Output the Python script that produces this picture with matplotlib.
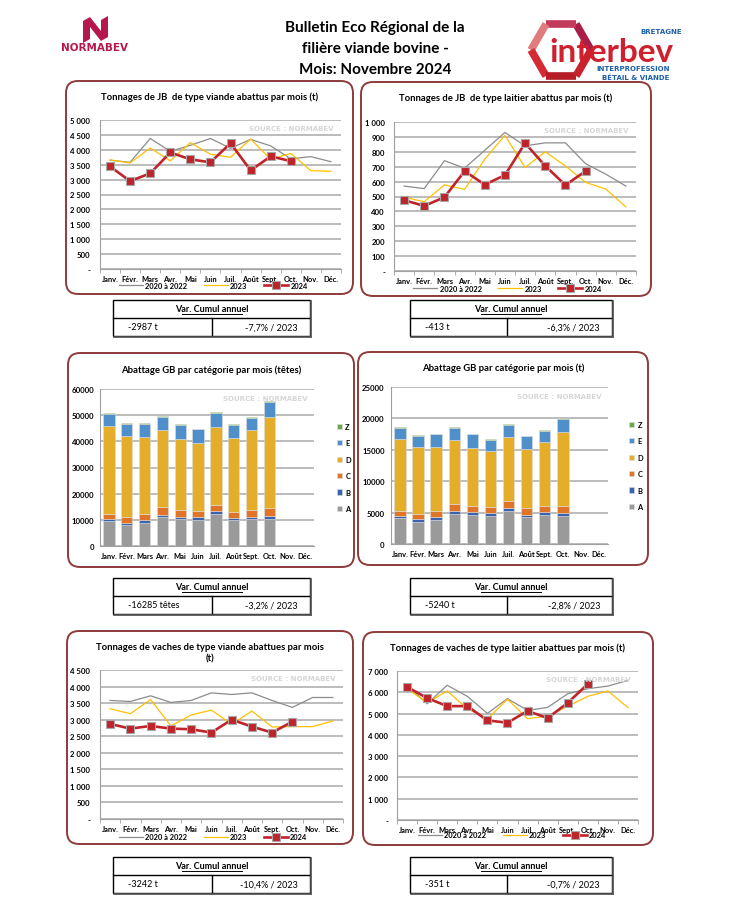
import numpy as np
import matplotlib
matplotlib.use('Agg')
import matplotlib.pyplot as plt
from matplotlib.patches import FancyBboxPatch, Rectangle, Polygon
from matplotlib.ticker import FuncFormatter, MultipleLocator

plt.rcParams['font.family'] = ['Lato', 'DejaVu Sans']
plt.rcParams['font.weight'] = 'bold'

W, H = 742, 912

mois = ['Janv.', 'Févr.', 'Mars', 'Avr.', 'Mai', 'Juin', 'Juil.', 'Août',
        'Sept.', 'Oct.', 'Nov.', 'Déc.']

# JB type viande (t)
jbv_ref = [3650, 3580, 4380, 3950, 4150, 4380, 4050, 4350, 4130, 3700, 3770, 3600]
jbv_2023 = [3660, 3560, 4060, 3630, 4240, 3850, 3750, 4360, 3680, 3880, 3300, 3280]
jbv_2024 = [3440, 2950, 3210, 3910, 3680, 3580, 4220, 3310, 3780, 3620]

# JB type laitier (t)
jbl_ref = [570, 553, 740, 690, 810, 930, 840, 860, 860, 720, 650, 570]
jbl_2023 = [495, 465, 578, 548, 750, 910, 695, 800, 705, 595, 550, 430]
jbl_2024 = [475, 437, 495, 670, 580, 643, 858, 705, 577, 670]

# Abattage GB par catégorie (têtes)
gbt_A = [9450, 8170, 8800, 10980, 10220, 9960, 12260, 9830, 10340, 10340]
gbt_B = [750, 770, 1030, 900, 1020, 1150, 1020, 770, 770, 1030]
gbt_C = [2060, 2160, 2430, 3060, 2550, 2300, 2430, 2430, 2810, 3060]
gbt_D = [33440, 31050, 29370, 29250, 26950, 25920, 29630, 28090, 30400, 34990]
gbt_E = [4750, 4590, 4970, 5230, 5490, 5240, 5620, 5110, 4720, 5750]
gbt_Z = [350, 260, 270, 380, 250, 130, 240, 380, 260, 260]

# Abattage GB par catégorie (t)
gbw_A = [4150, 3560, 3830, 4840, 4570, 4470, 5270, 4260, 4630, 4520]
gbw_B = [370, 380, 430, 430, 480, 530, 530, 420, 420, 480]
gbw_C = [750, 900, 1010, 1110, 1070, 960, 1010, 1120, 1070, 1120]
gbw_D = [11490, 10590, 10160, 10110, 9200, 8770, 10160, 9360, 10160, 11650]
gbw_E = [1750, 1750, 2020, 1970, 2130, 1870, 2020, 1970, 1750, 2070]
gbw_Z = [160, 160, 100, 100, 100, 160, 110, 100, 160, 160]

# Vaches type viande (t)
vv_ref = [3580, 3550, 3720, 3520, 3580, 3810, 3760, 3810, 3580, 3370, 3670, 3670]
vv_2023 = [3330, 3180, 3610, 2810, 3140, 3290, 2860, 3260, 2780, 2790, 2790, 2960]
vv_2024 = [2870, 2730, 2810, 2730, 2710, 2610, 3000, 2790, 2610, 2940]

# Vaches type laitier (t)
vl_ref = [6330, 5460, 6330, 5810, 5010, 5700, 5150, 5290, 5930, 6170, 6290, 6560]
vl_2023 = [6170, 5510, 6060, 5230, 4750, 5670, 4760, 4880, 5340, 5810, 6060, 5280]
vl_2024 = [6250, 5730, 5350, 5350, 4680, 4570, 5120, 4790, 5500, 6390]

# Tableaux "Var. Cumul annuel"
var_volume = ['-2987 t', '-413 t', '-16285 têtes', '-5240 t', '-3242 t', '-351 t']
var_pct = ['-7,7% / 2023', '-6,3% / 2023', '-3,2% / 2023', '-2,8% / 2023',
           '-10,4% / 2023', '-0,7% / 2023']

GRIS = '#8c8c8c'
JAUNE = '#FFC000'
ROUGE = '#C0242B'
BORD = '#8E3B3B'
GRILLE = '#b0b0b0'
cat_couleurs = {'A': '#9a9a9a', 'B': '#3a62ad', 'C': '#e07428', 'D': '#e4ae2a',
                'E': '#4f8fca', 'Z': '#6aa84f'}

fig = plt.figure(figsize=(W / 100, H / 100), dpi=100)
bg = fig.add_axes([0, 0, 1, 1])
bg.set_xlim(0, W)
bg.set_ylim(H, 0)
bg.axis('off')


def px_ax(x0, y0, x1, y1):
    return fig.add_axes([x0 / W, 1 - y1 / H, (x1 - x0) / W, (y1 - y0) / H])


def milliers(v, pos):
    if abs(v) < 1e-6:
        return '-'
    return f'{v:,.0f}'.replace(',', ' ')


def cadre(x0, y0, x1, y1):
    bg.add_patch(FancyBboxPatch((x0, y0), x1 - x0, y1 - y0,
                                boxstyle='round,pad=0,rounding_size=12',
                                fc='none', ec=BORD, lw=1.4))


def filigrane(ax):
    ax.text(0.97, 0.945, 'SOURCE : NORMABEV', transform=ax.transAxes,
            ha='right', va='center', fontsize=5, color='#d6d6d6',
            family='DejaVu Sans', fontweight='bold')


def style_axes(ax, pad_y):
    for s in ['top', 'right']:
        ax.spines[s].set_visible(False)
    ax.spines['left'].set_color('#a0a0a0')
    ax.spines['bottom'].set_color('#a0a0a0')
    ax.grid(axis='y', color=GRILLE, lw=1.2)
    ax.set_axisbelow(True)
    ax.tick_params(axis='y', length=0, pad=pad_y, labelsize=5.6)
    ax.set_xlim(-0.5, 11.5)


def courbe(box, ref, an23, an24, ymax, pas, leg, pad_y):
    ax = px_ax(*box)
    x = np.arange(12)
    ax.plot(x, ref, color=GRIS, lw=0.9, label='2020 à 2022')
    ax.plot(x, an23, color=JAUNE, lw=0.9, label='2023')
    ax.plot(x[:len(an24)], an24, color=ROUGE, lw=1.9, marker='s', ms=5.5,
            mfc=ROUGE, mec='#a8a8a8', mew=0.8, label='2024')
    style_axes(ax, pad_y)
    ax.set_ylim(0, ymax)
    ax.yaxis.set_major_locator(MultipleLocator(pas))
    ax.yaxis.set_major_formatter(FuncFormatter(milliers))
    ax.set_xticks(x)
    ax.set_xticklabels(mois, fontsize=5.4)
    ax.set_xticks(np.arange(-0.5, 12, 1), minor=True)
    ax.tick_params(axis='x', which='major', length=0, pad=4)
    ax.tick_params(axis='x', which='minor', length=3, color='#a0a0a0')
    ax.legend(loc='center', bbox_to_anchor=leg, ncol=3, frameon=False,
              fontsize=5.4, handlelength=3.2, columnspacing=2.2,
              handletextpad=0.3, borderpad=0)
    filigrane(ax)
    return ax


def barres(box, cats, ymax, pas, pad_y, leg_x):
    ax = px_ax(*box)
    x = np.arange(len(cats['A']))
    bas = np.zeros(len(x))
    for nom in ['A', 'B', 'C', 'D', 'E', 'Z']:
        v = np.array(cats[nom])
        ax.bar(x, v, bottom=bas, width=0.64, color=cat_couleurs[nom],
               edgecolor='#dcdcdc', lw=0.4, label=nom)
        bas = bas + v
    style_axes(ax, pad_y)
    ax.set_ylim(0, ymax)
    ax.yaxis.set_major_locator(MultipleLocator(pas))
    ax.set_xticks(np.arange(12))
    ax.set_xticklabels(mois, fontsize=5.4)
    ax.tick_params(axis='x', length=0, pad=4)
    h, l = ax.get_legend_handles_labels()
    ax.legend(h[::-1], l[::-1], loc='center left', bbox_to_anchor=(leg_x, 0.5),
              frameon=False, fontsize=5.4, handlelength=0.7, handleheight=0.7,
              handletextpad=0.4, labelspacing=1.25, borderpad=0)
    filigrane(ax)
    return ax


def tableau(x0, y0, x1, xm, volume, pct):
    h = 18
    bg.add_patch(Rectangle((x0, y0), x1 - x0, 2 * h, fc='white', ec='black', lw=1))
    bg.plot([x0, x1], [y0 + h, y0 + h], color='black', lw=1)
    bg.plot([xm, xm], [y0 + h, y0 + 2 * h], color='black', lw=1)
    bg.plot([x1 + 1, x1 + 1], [y0 + 1, y0 + 2 * h + 1], color='#555555', lw=1.2)
    bg.plot([x0 + 1, x1 + 1], [y0 + 2 * h + 1, y0 + 2 * h + 1], color='#555555', lw=1.2)
    cx = (x0 + x1) / 2
    bg.text(cx, y0 + h / 2, 'Var. Cumul annuel', ha='center', va='center',
            fontsize=6.5, fontweight='bold')
    bg.plot([cx - 30, cx + 30], [y0 + h / 2 + 5, y0 + h / 2 + 5], color='black', lw=0.7)
    bg.text(x0 + 15, y0 + 1.5 * h, volume, ha='left', va='center',
            fontsize=6.5, fontweight='normal')
    bg.text(x1 - 12, y0 + 1.5 * h, pct, ha='right', va='center',
            fontsize=6.5, fontweight='normal')


# ---- en-tête
for i, ligne in enumerate(['Bulletin Eco Régional de la', 'filière viande bovine -',
                           'Mois: Novembre 2024']):
    bg.text(375, 28 + i * 21, ligne, ha='center', va='center', fontsize=11,
            fontweight='bold')

# logo Normabev
bg.add_patch(Polygon([(83, 22), (90, 18), (101, 32), (101, 21), (108, 17),
                      (108, 38), (101, 42), (90, 28), (90, 40), (83, 44)],
                     closed=True, fc='#B5174F', ec='none'))
bg.text(95, 48, 'NORMABEV', ha='center', va='center', fontsize=7.5,
        fontweight='bold', color='#B5174F', family='DejaVu Sans')

# logo Interbev
cxh, cyh, r = 561, 51, 30
ang = np.deg2rad(np.arange(0, 420, 60))
pts = [(cxh + r * np.cos(a), cyh - r * np.sin(a)) for a in ang]
seg_couleurs = ['#a81e46', '#c43a5c', '#e07c7c', '#d42a34', '#b51c26', '#c8232d']
for k in range(6):
    bg.plot([pts[k][0], pts[k + 1][0]], [pts[k][1], pts[k + 1][1]],
            color=seg_couleurs[k], lw=5.5, solid_capstyle='butt')
bg.text(611, 53, 'interbev', ha='center', va='center', fontsize=24,
        fontweight='bold', color='#D0202E')
bg.text(661, 32, 'BRETAGNE', ha='center', va='center', fontsize=5,
        fontweight='bold', color='#1F5FA8', family='DejaVu Sans')
bg.text(633, 69, 'INTERPROFESSION', ha='center', va='center', fontsize=5,
        fontweight='bold', color='#1F5FA8', family='DejaVu Sans')
bg.text(636, 78, 'BÉTAIL & VIANDE', ha='center', va='center', fontsize=5,
        fontweight='bold', color='#1F5FA8', family='DejaVu Sans')

# ---- cadres
panneaux = [(66, 82, 353, 295), (361, 83, 651, 297), (68, 354, 354, 568),
            (358, 353, 648, 566), (67, 632, 353, 845), (363, 633, 653, 846)]
for p in panneaux:
    cadre(*p)

titres = [('Tonnages de JB  de type viande abattus par mois (t)', 97),
          ('Tonnages de JB  de type laitier abattus par mois (t)', 98),
          ('Abattage GB par catégorie par mois (têtes)', 370),
          ('Abattage GB par catégorie par mois (t)', 368),
          ('Tonnages de vaches de type viande abattues par mois\n(t)', 653),
          ('Tonnages de vaches de type laitier abattues par mois (t)', 648)]
for p, (t, y) in zip(panneaux, titres):
    bg.text((p[0] + p[2]) / 2, y, t, ha='center', va='center', fontsize=6.8,
            fontweight='bold', linespacing=1.4)

courbe((100, 121, 341, 270), jbv_ref, jbv_2023, jbv_2024, 5000, 500,
       (0.47, -0.11), 7)
courbe((394, 123, 636, 272), jbl_ref, jbl_2023, jbl_2024, 1000, 100,
       (0.47, -0.115), 6.5)
barres((100, 390, 314, 547),
       {'A': gbt_A, 'B': gbt_B, 'C': gbt_C, 'D': gbt_D, 'E': gbt_E, 'Z': gbt_Z},
       60000, 10000, 4, 1.09)
barres((391, 388, 608, 545),
       {'A': gbw_A, 'B': gbw_B, 'C': gbw_C, 'D': gbw_D, 'E': gbw_E, 'Z': gbw_Z},
       25000, 5000, 4.5, 1.08)
courbe((100, 671, 343, 820), vv_ref, vv_2023, vv_2024, 4500, 500,
       (0.465, -0.12), 7)
courbe((397, 672, 638, 821), vl_ref, vl_2023, vl_2024, 7000, 1000,
       (0.477, -0.10), 6.5)

# ---- tableaux
pos_tab = [(113, 301, 310, 212), (410, 301, 612, 507), (113, 579, 310, 212),
           (410, 579, 612, 507), (113, 858, 310, 212), (410, 858, 612, 507)]
for (x0, y0, x1, xm), v, p in zip(pos_tab, var_volume, var_pct):
    tableau(x0, y0, x1, xm, v, p)

fig.savefig('out.png', dpi=100)
